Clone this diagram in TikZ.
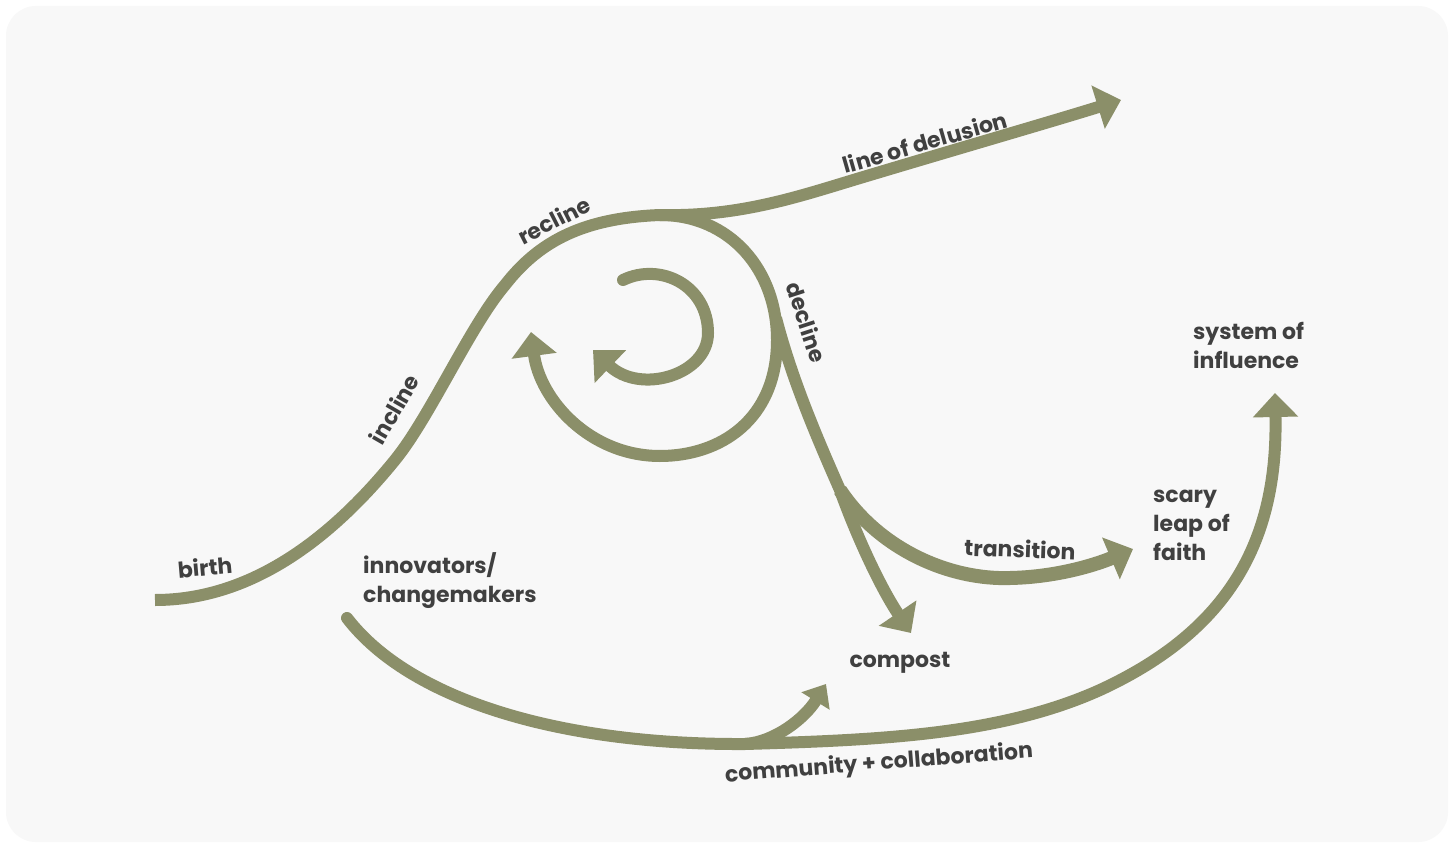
\documentclass[tikz,border=0pt]{standalone}
\usepackage{fontspec}
\setmainfont{Poppins}
\usetikzlibrary{arrows.meta}

\definecolor{sage}{HTML}{8B8F69}
\definecolor{ink}{HTML}{404040}
\definecolor{paper}{HTML}{F8F8F8}

\begin{document}
\begin{tikzpicture}[x=1pt, y=-1pt,
    flow/.style={draw=sage, line width=12pt},
    big tip/.style={-{Triangle[length=24pt,width=44pt]}},
    small tip/.style={-{Triangle[length=20pt,width=32pt]}},
    word/.style={text=ink, font=\fontsize{22}{29}\selectfont\bfseries, inner sep=0pt}]

  % card
  \useasboundingbox (0,0) rectangle (1454,848);
  \fill[white] (0,0) rectangle (1454,848);
  \fill[paper, rounded corners=30pt] (6,6) rectangle (1448,842);

  % points the curves run through
  \coordinate (birthend) at (155,600);
  \coordinate (peak) at (660,215);
  \coordinate (delusiontip) at (1121,100);
  \coordinate (looptip) at (531,332);
  \coordinate (split) at (776,318);
  \coordinate (fork) at (840,490);
  \coordinate (composttip) at (911,633);
  \coordinate (leaptip) at (1133,549);
  \coordinate (innostart) at (347,618);
  \coordinate (meet) at (745,744);
  \coordinate (systemtip) at (1275,393);
  \coordinate (compostlow) at (826,684);
  \coordinate (spiralstart) at (623,280);
  \coordinate (spiraltip) at (593,350);

  % birth, incline, recline
  \draw[flow] (birthend) .. controls (250,600) and (330,540) .. (395,460)
    .. controls (430,417) and (470,326) .. (505,285)
    .. controls (540,240) and (585,218) .. (peak);
  % line of delusion
  \draw[flow, big tip] (peak) .. controls (740,217) and (800,196) .. (860,178)
    .. controls (960,148) and (1050,122) .. (delusiontip);
  % the big loop back
  \draw[flow, big tip] (peak) .. controls (730,215) and (777,270) .. (777,340)
    .. controls (777,420) and (720,456) .. (660,456)
    .. controls (590,456) and (540,400) .. (looptip);
  % inner loop
  \draw[flow, line cap=round, big tip] (spiralstart) .. controls (660,262) and (708,285) .. (708,333)
    .. controls (708,375) and (640,395) .. (spiraltip);
  % decline into compost
  \draw[flow, big tip] (split) .. controls (792,380) and (818,440) .. (fork)
    .. controls (858,540) and (882,590) .. (composttip);
  % transition
  \draw[flow, line width=14pt, big tip] (fork) .. controls (880,550) and (950,580) .. (1010,578)
    .. controls (1060,577) and (1100,563) .. (leaptip);
  % community + collaboration
  \draw[flow, line cap=round, big tip] (innostart) .. controls (410,700) and (560,745) .. (meet)
    .. controls (880,740) and (1000,735) .. (1100,690)
    .. controls (1230,630) and (1278,540) .. (systemtip);
  \draw[flow, small tip] (meet) .. controls (775,742) and (805,718) .. (compostlow);

  % labels
  \node[word, rotate=5] (birth) at (205,567) {birth};
  \node[word, rotate=60] (incline) at (394,409) {incline};
  \node[word, rotate=27] (recline) at (554,220) {recline};
  \node[word, rotate=16] (delusion) at (925,142) {line of delusion};
  \node[word, rotate=-72] (decline) at (807,322) {decline};
  \node[word, rotate=-2] (transition) at (1020,549) {transition};
  \node[word] (compost) at (900,663) {compost};
  \node[word, rotate=4.5] (community) at (879,764) {community + collaboration};
  \node[word, align=left, anchor=base west] (innovators) at (363,602) {innovators/\\changemakers};
  \node[word, align=left, anchor=base west] (leap) at (1153,560) {scary\\leap of\\faith};
  \node[word, align=left, anchor=base west] (system) at (1193,368) {system of\\influence};
\end{tikzpicture}
\end{document}
